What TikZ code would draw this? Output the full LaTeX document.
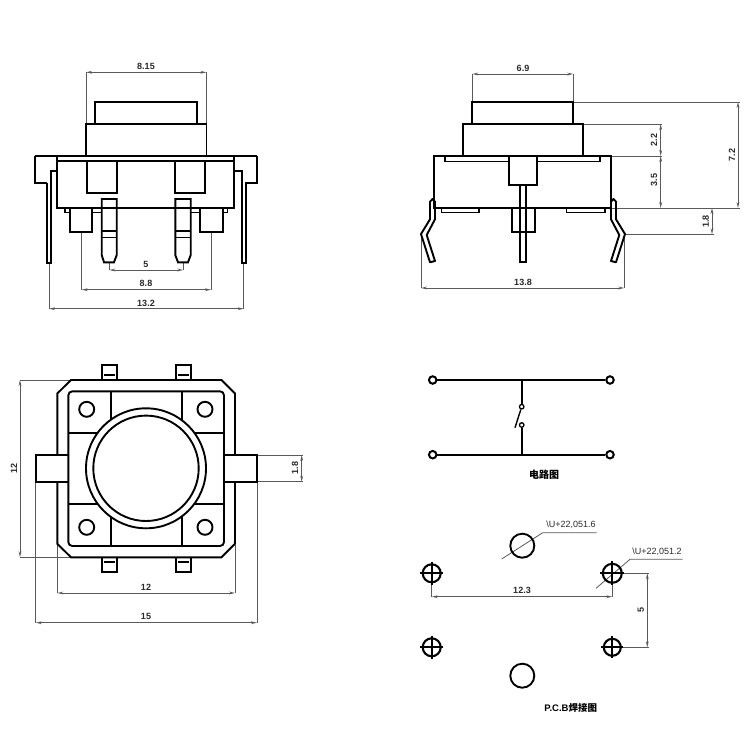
\documentclass[tikz,border=0pt]{standalone}
\usepackage{fontspec}
\setmainfont{Liberation Sans}
\newfontfamily\cjkfont{Noto Sans CJK SC}
\usetikzlibrary{arrows.meta}
\definecolor{dimgray}{HTML}{5A5A5A}
\definecolor{dimtext}{HTML}{2A2A2A}
\tikzset{
  x=1pt,y=-1pt,
  part/.style={draw=black,line width=1.9pt,line join=miter},
  thin part/.style={draw=black,line width=1.4pt},
  extline/.style={draw=dimgray,line width=0.8pt},
  dimline/.style={draw=dimgray,line width=0.8pt,{Stealth[open,length=6pt,width=2.8pt]}-{Stealth[open,length=6pt,width=2.8pt]}},
  dimlabel/.style={font=\bfseries\fontsize{9}{10}\selectfont,text=dimtext,inner sep=0pt},
  caption/.style={font=\bfseries\fontsize{9.5}{10}\selectfont,text=black,inner sep=0pt},
  terminal/.style={circle,draw=black,line width=2pt,minimum size=7.5pt,inner sep=0pt},
  contact/.style={circle,draw=black,line width=1.3pt,minimum size=4.5pt,inner sep=0pt},
}
\begin{document}
\begin{tikzpicture}
\useasboundingbox[fill=white] (0,0) rectangle (750,750);

% ---------- front view ----------
\draw[extline] (86,72.3)--(86,124) (206.5,72.3)--(206.5,124)
  (109.3,262)--(109.3,270) (183.3,262)--(183.3,270)
  (81.7,232)--(81.7,289.7) (211,232)--(211,289.7)
  (49,263)--(49,308.7) (243.7,263)--(243.7,308.7);
\draw[dimline] (86,72.3)--(206.5,72.3);
\draw[dimline] (109.3,270)--(183.3,270);
\draw[dimline] (81.7,289.7)--(211,289.7);
\draw[dimline] (49,308.7)--(243.7,308.7);
\node[dimlabel] (fa) at (146,66) {8.15};
\node[dimlabel] (fb) at (146,264) {5};
\node[dimlabel] (fc) at (146,283) {8.8};
\node[dimlabel] (fd) at (146,303) {13.2};
\draw[part] (95,123.5)--(95,102.3)--(197.3,102.3)--(197.3,123.5);
\draw[part] (86,124) rectangle (206.5,156);
\draw[part] (35,156)--(257,156);
\draw[part] (47,183.3)--(35,183.3)--(35,156);
\draw[part] (245,183.3)--(257,183.3)--(257,156);
\draw[part] (57.3,156) rectangle (234.3,208);
\draw[thin part] (57.3,160.8)--(234.3,160.8);
\draw[part] (87.3,160.8)--(87.3,193.3)--(116.7,193.3)--(116.7,160.8);
\draw[part] (175.3,160.8)--(175.3,193.3)--(205.3,193.3)--(205.3,160.8);
% leads
\draw[part] (57.3,171)--(50.7,171)--(50.7,263)--(47,263)--(47,183.3);
\draw[part] (234.3,171)--(242,171)--(242,263)--(246,263)--(246,183.3);
% feet
\draw[thin part] (65,208)--(65,212.5)--(70,212.5) (92.3,212.5)--(101.7,212.5);
\draw[thin part] (227.7,208)--(227.7,212.5)--(222.7,212.5) (200,212.5)--(190.7,212.5);
\draw[part] (70,208) rectangle (92.3,232);
\draw[part] (200,208) rectangle (222.7,232);
% pins
\draw[part] (101.7,199)--(116.7,199)--(116.7,255)--(114,262.3)--(104,262.3)--(101.7,255)--cycle;
\draw[part] (175.3,199)--(190.7,199)--(190.7,255)--(188,262.3)--(178,262.3)--(175.3,255)--cycle;
\draw[part] (101.7,231)--(116.7,231) (101.7,237.5)--(116.7,237.5) (175.3,231)--(190.7,231) (175.3,237.5)--(190.7,237.5);

% ---------- side view ----------
\draw[extline] (472.3,74)--(472.3,102) (573.3,74)--(573.3,102)
  (573.3,102)--(740,102) (583.3,124)--(662,124) (611.3,156)--(662,156)
  (611.3,208)--(740,208) (625,234.3)--(713.5,234.3)
  (421,234)--(421,288) (624.3,234)--(624.3,288);
\draw[dimline] (472.3,74)--(573.3,74);
\draw[dimline] (660.7,124)--(660.7,156);
\draw[dimline] (660.7,156)--(660.7,208);
\draw[dimline] (738,102)--(738,208);
\draw[dimline] (712,208)--(712,234.3);
\draw[dimline] (421,288)--(624.3,288);
\node[dimlabel] (sa) at (523,68) {6.9};
\node[dimlabel,rotate=90] (sb) at (654,140) {2.2};
\node[dimlabel,rotate=90] (sc) at (654,180) {3.5};
\node[dimlabel,rotate=90] (sd) at (732,155) {7.2};
\node[dimlabel,rotate=90] (se) at (705.7,221.7) {1.8};
\node[dimlabel] (sf) at (523,282) {13.8};
\draw[part] (472.3,102) rectangle (573.3,124);
\draw[part] (462.7,124) rectangle (583.3,156);
\draw[part] (434.3,156) rectangle (611.3,208);
\draw[thin part] (445,156)--(445,161.5)--(509.3,161.5) (536.7,161.5)--(600,161.5)--(600,156);
\draw[part,fill=white] (509.3,156) rectangle (536.7,184.7);
\draw[thin part] (512,208)--(512,232)--(535,232)--(535,208);
\draw[part] (520,184.7)--(520,262.3)--(526.3,262.3)--(526.3,184.7);
\draw[thin part] (441.7,208)--(441.7,212.5)--(479,212.5)--(479,208);
\draw[thin part] (566.7,208)--(566.7,212.5)--(605,212.5)--(605,208);
\draw[part,line join=round] (430,201.7)--(432.5,199)--(435,201.7)--(435,219.3)--(426.7,235)--(435,261)--(430,262.3)--(421,234)--(430,219.3)--cycle;
\draw[part,line join=round] (616,201.7)--(613.5,199)--(611,201.7)--(611,219.3)--(619.3,235)--(611,261)--(616,262.3)--(625,234)--(616,219.3)--cycle;

% ---------- top view ----------
\draw[extline] (20,380)--(71,380) (20,557.3)--(71,557.3)
  (257,455)--(303,455) (257,481.7)--(303,481.7)
  (57.3,545)--(57.3,593) (235,545)--(235,593)
  (35.7,481.7)--(35.7,622.7) (257,481.7)--(257,622.7);
\draw[dimline] (20,380)--(20,557.3);
\draw[dimline] (301.7,455)--(301.7,481.7);
\draw[dimline] (57.3,593)--(235,593);
\draw[dimline] (35.7,622.7)--(257,622.7);
\node[dimlabel,rotate=90] (ta) at (14,468) {12};
\node[dimlabel,rotate=90] (tb) at (295,468) {1.8};
\node[dimlabel] (tc) at (146,587) {12};
\node[dimlabel] (td) at (146,616) {15};
\draw[part] (57.3,455)--(57.3,393.5)--(71,380)--(221.5,380)--(235,393.5)--(235,455);
\draw[part] (57.3,481.7)--(57.3,543.8)--(71,557.3)--(221.5,557.3)--(235,543.8)--(235,481.7);
\draw[part,rounded corners=4pt] (68.3,391.3) rectangle (224,546);
\draw[part] (68.3,455)--(35.7,455)--(35.7,481.7)--(68.3,481.7);
\draw[part] (224,455)--(257,455)--(257,481.7)--(224,481.7);
\draw[part] (110.7,391.3)--(110.7,432.7) (181.7,391.3)--(181.7,432.7)
  (110.7,546)--(110.7,504) (181.7,546)--(181.7,504)
  (68.3,432.7)--(110.7,432.7) (224,432.7)--(181.7,432.7)
  (68.3,504)--(110.7,504) (224,504)--(181.7,504);
\draw[part,fill=white] (146,468.3) circle[radius=60];
\draw[part] (146,468.3) circle[radius=52.7];
\foreach \cx/\cy in {86.7/409.3,205/409.3,86.7/527.3,205/527.3}
  \draw[part] (\cx,\cy) circle[radius=7.5];
\foreach \tx in {101.7,175.7}{
  \draw[part] (\tx,380)--(\tx,365)--(\tx+15.5,365)--(\tx+15.5,380);
  \draw[thin part] (\tx+2,375)--(\tx+13.5,375);
  \draw[part] (\tx,557.3)--(\tx,571.7)--(\tx+15.5,571.7)--(\tx+15.5,557.3);
  \draw[thin part] (\tx+2,562)--(\tx+13.5,562);
}

% ---------- schematic ----------
\node[terminal] (p1) at (432.7,380) {};
\node[terminal] (p2) at (610,380) {};
\node[terminal] (p3) at (432.7,454.7) {};
\node[terminal] (p4) at (610,454.7) {};
\node[contact] (k1) at (521.7,406.7) {};
\node[contact] (k2) at (521.7,425) {};
\coordinate (jt) at (521.7,380);
\coordinate (jb) at (521.7,454.7);
\coordinate (bl) at (515,427.7);
\draw[part] (p1)--(p2);
\draw[part] (p3)--(p4);
\draw[part] (jt)--(k1);
\draw[part] (k2)--(jb);
\draw[thin part] (k1)--(bl);
\node[caption,font=\cjkfont\bfseries\fontsize{10}{11}\selectfont] (cap1) at (544,475) {电路图};

% ---------- PCB ----------
\draw[extline] (431.7,581)--(431.7,596.7) (612.3,581)--(612.3,596.7)
  (612.3,573.3)--(648.5,573.3) (612.3,647.3)--(648.5,647.3);
\draw[extline] (501.7,559)--(542.7,532.7)--(596.7,532.7);
\draw[extline] (596,588.3)--(630,559.3)--(682.7,559.3);
\draw[dimline] (431.7,596.7)--(612.3,596.7);
\draw[dimline] (647.3,573.3)--(647.3,647.3);
\node[dimlabel] (pa) at (522,590) {12.3};
\node[dimlabel,rotate=90] (pb) at (640.7,610) {5};
\node[dimlabel,font=\fontsize{9}{10}\selectfont] (pc) at (571,525) {\textbackslash U+22,051.6};
\node[dimlabel,font=\fontsize{9}{10}\selectfont] (pd) at (657,551.7) {\textbackslash U+22,051.2};
\draw[part] (522.3,545.7) circle[radius=12];
\draw[part] (522.3,675.7) circle[radius=12];
\foreach \hx/\hy/\hr in {431.7/573.3/9,612.3/573.3/9.5,431.7/647.3/9,612.3/647.3/8.5}{
  \draw[part,line width=2.1pt] (\hx,\hy) circle[radius=\hr];
  \draw[part] (\hx-\hr-2.5,\hy)--(\hx+\hr+2.5,\hy) (\hx,\hy-\hr-2.5)--(\hx,\hy+\hr+2.5);
}
\node[caption] (cap2) at (570.7,707.7) {P.C.B{\cjkfont\bfseries 焊接图}};
\end{tikzpicture}
\end{document}
